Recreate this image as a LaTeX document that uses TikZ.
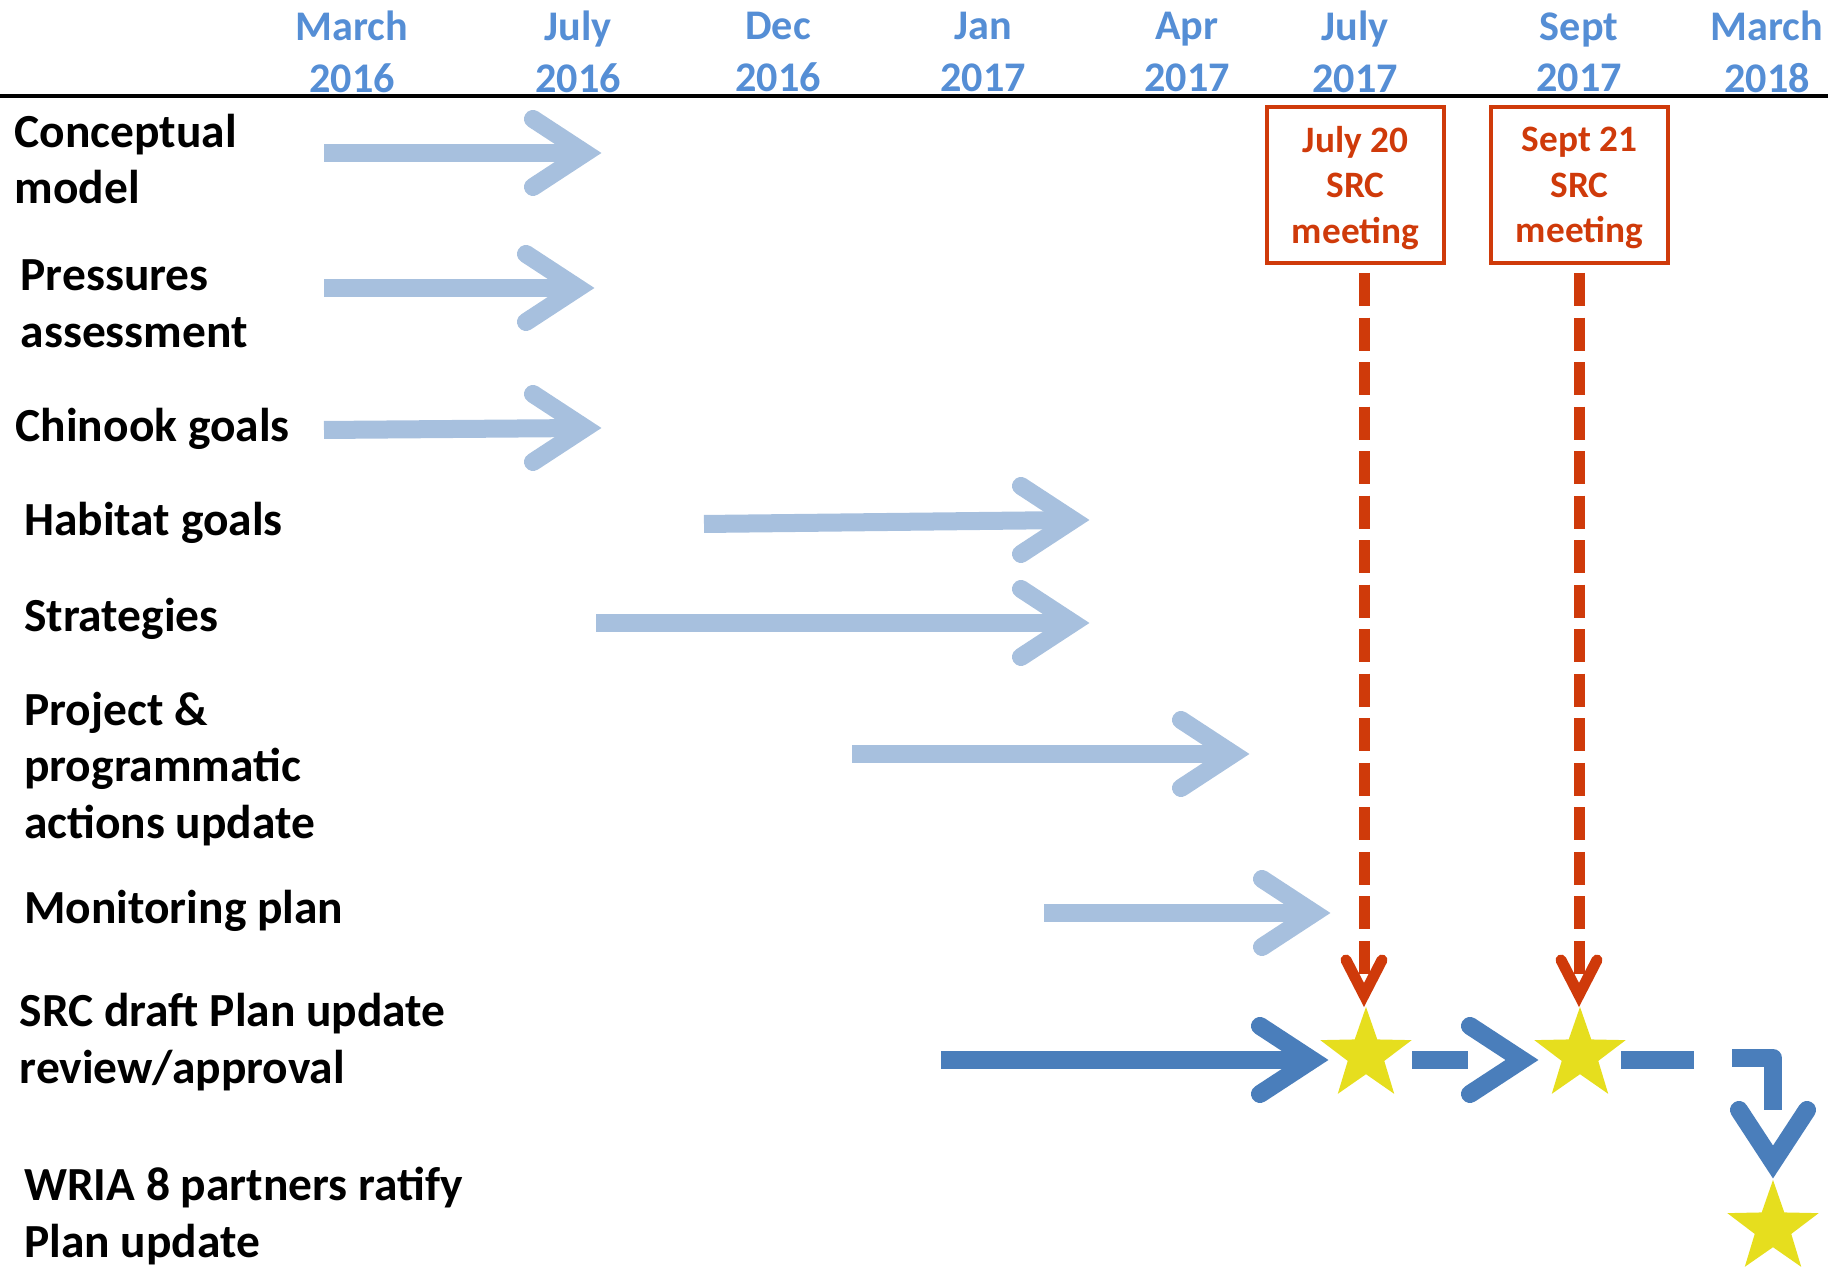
\documentclass[tikz,border=0pt]{standalone}
\usepackage{fontspec}
\setmainfont{Carlito}
\usetikzlibrary{shapes.geometric}
\definecolor{hdrblue}{HTML}{558ED5}
\definecolor{lightbar}{HTML}{A7C0DE}
\definecolor{darkbar}{HTML}{4A7EBB}
\definecolor{meetred}{HTML}{CF3A0A}
\definecolor{starY}{HTML}{E6DE1E}
\newcommand\headright[2]{\draw[#1] ([shift={(-52,-34)}]#2) -- (#2) -- ([shift={(-52,34)}]#2);}
\newcommand\headdown[2]{\draw[#1] ([shift={(-34,-52)}]#2) -- (#2) -- ([shift={(34,-52)}]#2);}
\newcommand\headdownred[2]{\draw[#1] ([shift={(-18,-35)}]#2) -- (#2) -- ([shift={(18,-35)}]#2);}
\begin{document}
\begin{tikzpicture}[x=0.01cm,y=-0.01cm,
  hdr/.style={font=\fontsize{12}{14.6}\selectfont\bfseries, text=hdrblue, align=center, inner sep=0},
  lbl/.style={font=\fontsize{13.5}{16.1}\selectfont\bfseries, anchor=west, align=left, inner sep=0},
  mbox/.style={draw=meetred, line width=0.035cm, text=meetred, font=\fontsize{10.6}{12.9}\selectfont\bfseries, align=center, minimum width=1.77cm, minimum height=1.56cm, inner sep=0},
  mtext/.style={text=meetred, font=\fontsize{10.6}{12.9}\selectfont\bfseries, align=center, inner sep=0},
  lbar/.style={draw=lightbar, line width=0.18cm},
  lhead/.style={lbar, line cap=round, line join=miter},
  dbar/.style={draw=darkbar, line width=0.18cm},
  dhead/.style={dbar, line cap=round, line join=miter},
  rbar/.style={draw=meetred, line width=0.11cm, dash pattern=on 0.33cm off 0.115cm},
  rhead/.style={draw=meetred, line width=0.11cm, line cap=round, line join=miter},
  ystar/.style={star, star points=5, star point ratio=2.5, fill=starY, draw=none, minimum size=0.96cm, inner sep=0}
]
\useasboundingbox (0,0) rectangle (1841,1268);

% header
\node[hdr] (h1) at (352,52) {March\\2016};
\node[hdr] (h2) at (578,52) {July\\2016};
\node[hdr] (h3) at (778,52) {Dec\\2016};
\node[hdr] (h4) at (983,52) {Jan\\2017};
\node[hdr] (h5) at (1187,52) {Apr\\2017};
\node[hdr] (h6) at (1355,52) {July\\2017};
\node[hdr] (h7) at (1579,52) {Sept\\2017};
\node[hdr] (h8) at (1767,52) {March\\2018};
\coordinate (rulel) at (0,96);
\coordinate (ruler) at (1828,96);
\draw[line width=0.035cm] (rulel) -- (ruler);

% row labels
\node[lbl] (l1) at (14,159) {Conceptual\\model};
\node[lbl] (l2) at (20,304) {Pressures\\assessment};
\node[lbl] (l3) at (15,429) {Chinook goals};
\node[lbl] (l4) at (23.5,523) {Habitat goals};
\node[lbl] (l5) at (23.5,619) {Strategies};
\node[lbl] (l6) at (23.5,769) {Project \&\\programmatic\\actions update};
\node[lbl] (l7) at (23.5,911) {Monitoring plan};
\node[lbl] (l8) at (19,1042) {SRC draft Plan update\\review/approval};
\node[lbl] (l9) at (23.5,1216) {WRIA 8 partners ratify\\Plan update};

% meeting boxes
\node[mbox] (jbox) at (1355.5,185) {};
\node[mbox] (sbox) at (1579.5,185) {};
\node[mtext] (jtxt) at (1355.5,188) {July 20\\SRC\\meeting};
\node[mtext] (stxt) at (1579.5,188) {Sept 21\\SRC\\meeting};

% light task arrows
\coordinate (a1s) at (324,153);  \coordinate (a1t) at (585,153);
\coordinate (a2s) at (324,288);  \coordinate (a2t) at (578,288);
\coordinate (a3s) at (324,430);  \coordinate (a3t) at (585,428);
\coordinate (a4s) at (704,524);  \coordinate (a4t) at (1073,520);
\coordinate (a5s) at (596,623);  \coordinate (a5t) at (1073,623);
\coordinate (a6s) at (852,754);  \coordinate (a6t) at (1233,754);
\coordinate (a7s) at (1044,913); \coordinate (a7t) at (1314,913);
\foreach \i in {1,...,7}{
  \draw[lbar] (a\i s) -- (a\i t);
  \headright{lhead}{a\i t}
}

% stars
\node[ystar] (st1) at (1366,1055) {};
\node[ystar] (st2) at (1580,1055) {};
\node[ystar] (st3) at (1773,1228) {};

% dark review path
\coordinate (d1s) at (941,1060); \coordinate (d1t) at (1312,1060);
\draw[dbar] (d1s) -- (d1t);
\headright{dhead}{d1t}
\coordinate (d2a) at (1412,1060); \coordinate (d2b) at (1468,1060);
\draw[dbar] (d2a) -- (d2b);
\coordinate (d2t) at (1522,1060);
\headright{dhead}{d2t}
\coordinate (d3a) at (1621,1060); \coordinate (d3b) at (1694,1060);
\draw[dbar] (d3a) -- (d3b);
\coordinate (d4a) at (1732,1058); \coordinate (d4c) at (1773,1058); \coordinate (d4b) at (1773,1110);
\draw[dbar, line join=round] (d4a) -- (d4c) -- (d4b);
\coordinate (d4t) at (1773,1162);
\headdown{dhead}{d4t}

% red meeting connectors
\coordinate (r1s) at (1364,273); \coordinate (r1e) at (1364,978); \coordinate (r1v) at (1364,995);
\coordinate (r2s) at (1579,273); \coordinate (r2e) at (1579,978); \coordinate (r2v) at (1579,995);
\draw[rbar] (r1s) -- (r1e);
\headdownred{rhead}{r1v}
\draw[rbar] (r2s) -- (r2e);
\headdownred{rhead}{r2v}
\end{tikzpicture}
\end{document}
